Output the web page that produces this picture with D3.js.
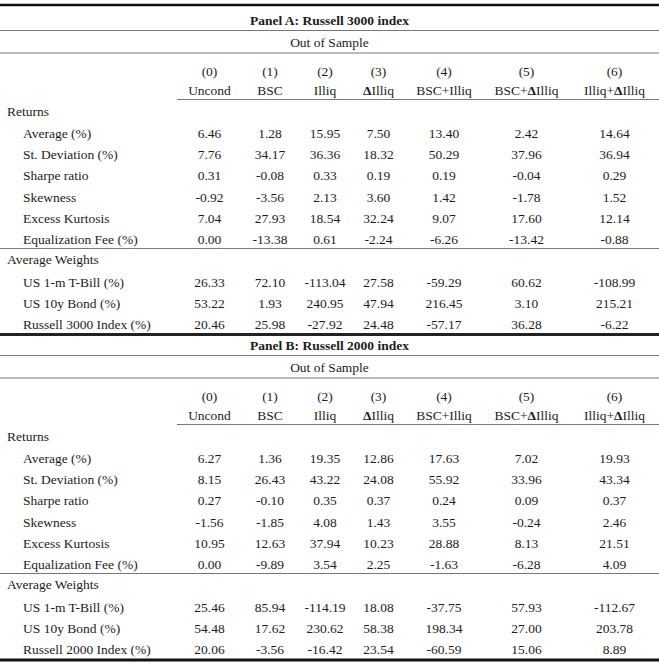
<!DOCTYPE html>
<meta charset="UTF-8">
<style>
body { margin: 0; background: #fff; }
svg text { font-family: "Liberation Serif", "Times New Roman", serif; font-size: 13.5px; fill: #1c1c1c; }
.title { font-weight: bold; }
</style>
<body>
<script src="https://d3js.org/d3.v7.min.js"></script>
<script>

// column headers
var colNums = ["(0)", "(1)", "(2)", "(3)", "(4)", "(5)", "(6)"];
var colNames = ["Uncond", "BSC", "Illiq", "\u0394Illiq", "BSC+Illiq", "BSC+\u0394Illiq", "Illiq+\u0394Illiq"];

var returnLabels = ["Average (%)", "St. Deviation (%)", "Sharpe ratio", "Skewness", "Excess Kurtosis", "Equalization Fee (%)"];

// Panel A: Russell 3000
var panelA_returns = [
  [6.46, 1.28, 15.95, 7.50, 13.40, 2.42, 14.64],
  [7.76, 34.17, 36.36, 18.32, 50.29, 37.96, 36.94],
  [0.31, -0.08, 0.33, 0.19, 0.19, -0.04, 0.29],
  [-0.92, -3.56, 2.13, 3.60, 1.42, -1.78, 1.52],
  [7.04, 27.93, 18.54, 32.24, 9.07, 17.60, 12.14],
  [0.00, -13.38, 0.61, -2.24, -6.26, -13.42, -0.88]
];
var panelA_weightLabels = ["US 1-m T-Bill (%)", "US 10y Bond (%)", "Russell 3000 Index (%)"];
var panelA_weights = [
  [26.33, 72.10, -113.04, 27.58, -59.29, 60.62, -108.99],
  [53.22, 1.93, 240.95, 47.94, 216.45, 3.10, 215.21],
  [20.46, 25.98, -27.92, 24.48, -57.17, 36.28, -6.22]
];

// Panel B: Russell 2000
var panelB_returns = [
  [6.27, 1.36, 19.35, 12.86, 17.63, 7.02, 19.93],
  [8.15, 26.43, 43.22, 24.08, 55.92, 33.96, 43.34],
  [0.27, -0.10, 0.35, 0.37, 0.24, 0.09, 0.37],
  [-1.56, -1.85, 4.08, 1.43, 3.55, -0.24, 2.46],
  [10.95, 12.63, 37.94, 10.23, 28.88, 8.13, 21.51],
  [0.00, -9.89, 3.54, 2.25, -1.63, -6.28, 4.09]
];
var panelB_weightLabels = ["US 1-m T-Bill (%)", "US 10y Bond (%)", "Russell 2000 Index (%)"];
var panelB_weights = [
  [25.46, 85.94, -114.19, 18.08, -37.75, 57.93, -112.67],
  [54.48, 17.62, 230.62, 58.38, 198.34, 27.00, 203.78],
  [20.06, -3.56, -16.42, 23.54, -60.59, 15.06, 8.89]
];

var panels = [
  {title: "Panel A: Russell 3000 index", returns: panelA_returns, wLabels: panelA_weightLabels, weights: panelA_weights},
  {title: "Panel B: Russell 2000 index", returns: panelB_returns, wLabels: panelB_weightLabels, weights: panelB_weights}
];

var width = 659, height = 664;

var svg = d3.select("body").append("svg")
    .attr("width", width)
    .attr("height", height);

// column edges -> centers
var edges = [177, 242, 298, 352, 405, 483, 570, 659];
var x = d3.scaleOrdinal()
    .domain(d3.range(7))
    .range(d3.range(7).map(function(i) { return (edges[i] + edges[i + 1]) / 2; }));

var panelH = 325;
var fmt = function(v) { return v.toFixed(2); };

function hline(g, y, x0, sw, col) {
  g.append("line")
    .attr("x1", x0).attr("x2", width)
    .attr("y1", y).attr("y2", y)
    .attr("stroke", col).attr("stroke-width", sw);
}

function addText(g, s, xx, yy, anchor) {
  var t = g.append("text")
    .attr("x", xx).attr("y", yy)
    .attr("dominant-baseline", "central")
    .attr("text-anchor", anchor || "middle");
  // bold delta
  s.split(/(\u0394)/).forEach(function(part) {
    if (!part) return;
    var ts = t.append("tspan").text(part);
    if (part === "\u0394") ts.style("font-weight", "bold");
  });
  return t;
}

panels.forEach(function(p, pi) {
  var g = svg.append("g").attr("transform", "translate(0," + (pi * panelH) + ")");

  g.append("text").attr("class", "title")
    .attr("x", width / 2).attr("y", 20)
    .attr("dominant-baseline", "central").attr("text-anchor", "middle")
    .text(p.title);
  hline(g, 30.5, 0, 1, "#777");
  addText(g, "Out of Sample", width / 2, 42);
  hline(g, 53, 0, 1, "#777");

  colNums.forEach(function(c, i) { addText(g, c, x(i), 71); });
  colNames.forEach(function(c, i) { addText(g, c, x(i), 90); });
  hline(g, 99.5, edges[0], 1, "#777");

  addText(g, "Returns", 7, 111, "start");
  var yR = d3.scaleLinear().domain([0, 5]).range([133, 239]);
  p.returns.forEach(function(row, r) {
    addText(g, returnLabels[r], 23, yR(r), "start");
    row.forEach(function(v, i) { addText(g, fmt(v), x(i), yR(r)); });
  });
  hline(g, 248.5, 0, 1, "#777");

  addText(g, "Average Weights", 7, 259, "start");
  var yW = d3.scaleLinear().domain([0, 2]).range([282, 324]);
  p.weights.forEach(function(row, r) {
    addText(g, p.wLabels[r], 23, yW(r), "start");
    row.forEach(function(v, i) { addText(g, fmt(v), x(i), yW(r)); });
  });
});

// heavy rules
hline(svg, 5, 0, 2.5, "#111");
hline(svg, 334.5, 0, 3, "#222");
hline(svg, 660, 0, 3, "#111");

</script>
</body>
